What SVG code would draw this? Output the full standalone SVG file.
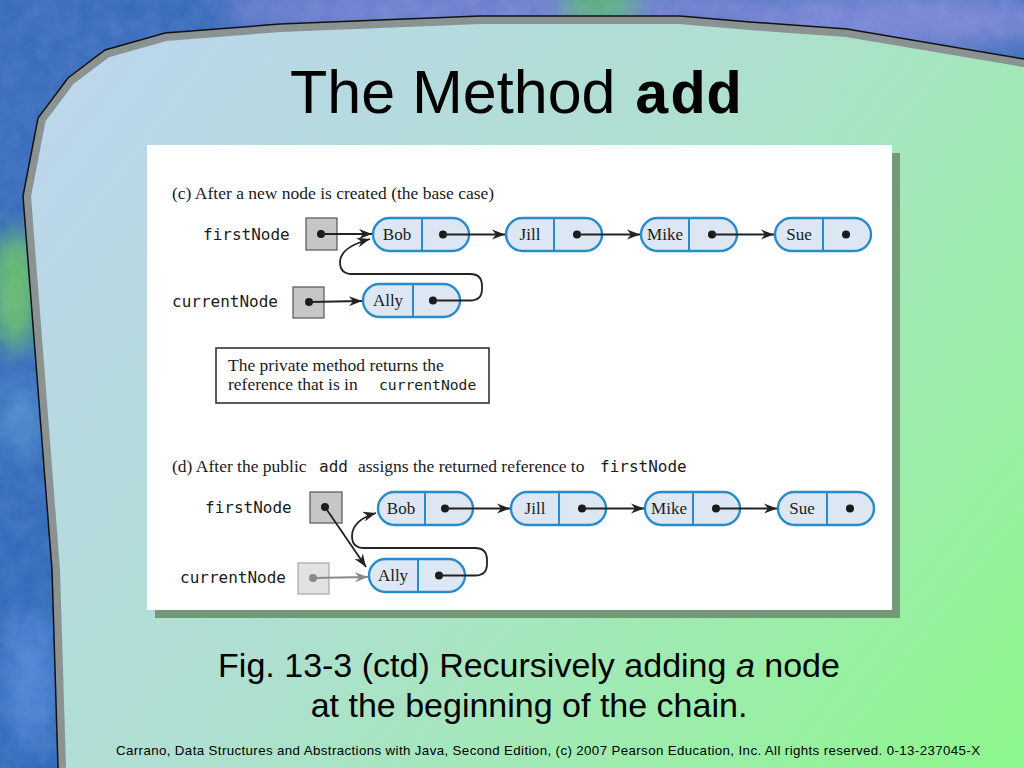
<svg xmlns="http://www.w3.org/2000/svg" width="1024" height="768" viewBox="0 0 1024 768">
<style>
.mono{font-family:"DejaVu Sans Mono","Liberation Mono",monospace;fill:#1a1a1a}
.serif{font-family:"Liberation Serif","Times New Roman",serif;fill:#1a1a1a}
.sans{font-family:"Liberation Sans",Arial,sans-serif;fill:#000}
.pill{fill:#dce7f3;stroke:#2a8bcb;stroke-width:2.4}
.div{stroke:#2a8bcb;stroke-width:2}
.ref{fill:#c6c6c6;stroke:#555;stroke-width:1.2}
.refl{fill:#e2e2e2;stroke:#a8a8a8;stroke-width:1.2}
.dot{fill:#1a1a1a}
.ln{stroke:#222;stroke-width:1.8;fill:none}
.lng{stroke:#8a8a8a;stroke-width:1.8;fill:none}
.nt{font-size:17px;text-anchor:middle}
</style>
<defs>
<linearGradient id="inner" x1="100" y1="60" x2="1000" y2="760" gradientUnits="userSpaceOnUse">
<stop offset="0" stop-color="#bcd6ec"/>
<stop offset="0.45" stop-color="#aee0d0"/>
<stop offset="1" stop-color="#8ef68e"/>
</linearGradient>
<linearGradient id="outer" x1="0" y1="0" x2="0" y2="768" gradientUnits="userSpaceOnUse">
<stop offset="0" stop-color="#3568b8"/>
<stop offset="1" stop-color="#2a66b6"/>
</linearGradient>
<filter id="noise" x="0" y="0" width="100%" height="100%">
<feTurbulence type="fractalNoise" baseFrequency="0.05" numOctaves="3" seed="4"/>
<feColorMatrix type="matrix" values="0 0 0 0 0.6  0 0 0 0 0.7  0 0 0 0 1  0 0 0 0.5 0"/>
</filter>
<filter id="blur"><feGaussianBlur stdDeviation="12"/></filter>
<clipPath id="inside">
<path d="M1100,72 L1024,59 L847,29 L750,22 L680,16 L480,16 L280,24 L165,33 L105,50 L68,78 L38,118 L23,196 L27,248 L52,570 L58,768 L60,830 L1100,830 Z"/>
</clipPath>
<marker id="ah" viewBox="-14 -6 15 12" refX="0" refY="0" markerWidth="15" markerHeight="12" orient="auto" markerUnits="userSpaceOnUse">
<path d="M0,0 L-13,-5 L-9,0 L-13,5 Z" fill="#222"/>
</marker>
<marker id="ahg" viewBox="-14 -6 15 12" refX="0" refY="0" markerWidth="15" markerHeight="12" orient="auto" markerUnits="userSpaceOnUse">
<path d="M0,0 L-13,-5 L-9,0 L-13,5 Z" fill="#8a8a8a"/>
</marker>
</defs>

<!-- slide background -->
<rect x="0" y="0" width="1024" height="768" fill="url(#outer)"/>
<g filter="url(#blur)">
<ellipse cx="520" cy="10" rx="300" ry="30" fill="#6c7ccc"/>
<ellipse cx="900" cy="20" rx="160" ry="30" fill="#7482d0"/>
<ellipse cx="600" cy="5" rx="40" ry="20" fill="#58b070"/>
<ellipse cx="15" cy="290" rx="25" ry="60" fill="#62bc68"/>
<ellipse cx="20" cy="420" rx="20" ry="40" fill="#4a86c8"/>
<ellipse cx="30" cy="680" rx="25" ry="70" fill="#4a7ed0"/>
</g>
<rect x="0" y="0" width="1024" height="768" filter="url(#noise)" opacity="0.35"/>
<path d="M1100,72 L1024,59 L847,29 L750,22 L680,16 L480,16 L280,24 L165,33 L105,50 L68,78 L38,118 L23,196 L27,248 L52,570 L58,768 L60,830 L1100,830 Z" fill="url(#inner)"/>
<path d="M1100,72 L1024,59 L847,29 L750,22 L680,16 L480,16 L280,24 L165,33 L105,50 L68,78 L38,118 L23,196 L27,248 L52,570 L58,768" fill="none" stroke="#8a9292" stroke-width="16" clip-path="url(#inside)"/>
<path d="M1100,72 L1024,59 L847,29 L750,22 L680,16 L480,16 L280,24 L165,33 L105,50 L68,78 L38,118 L23,196 L27,248 L52,570 L58,768" fill="none" stroke="#111" stroke-width="1.5"/>

<!-- title -->
<text class="sans" x="290" y="113" font-size="61">The Method</text>
<text x="634" y="113" font-size="60" font-weight="bold" font-family="'Liberation Mono','Courier New',monospace" fill="#000">add</text>

<!-- figure panel -->
<rect x="155" y="153" width="745" height="465" fill="#729a76"/>
<rect x="147" y="145" width="745" height="465" fill="#ffffff"/>

<!-- (c) -->
<text class="serif" x="172" y="199" font-size="17.5">(c) After a new node is created (the base case)</text>
<text class="mono" x="203" y="240" font-size="16">firstNode</text>
<text class="mono" x="172" y="307" font-size="16">currentNode</text>

<g id="c-firstNode"><rect class="ref" x="306" y="218" width="31" height="32"/><circle class="dot" cx="321" cy="234" r="4"/></g>
<g id="c-bob"><rect class="pill" x="373" y="218" width="96" height="33" rx="16.5"/><line class="div" x1="422" y1="218" x2="422" y2="251"/><text class="serif nt" x="397" y="240">Bob</text><circle class="dot" cx="443" cy="234.5" r="4"/></g>
<g id="c-jill"><rect class="pill" x="506" y="218" width="96" height="33" rx="16.5"/><line class="div" x1="554" y1="218" x2="554" y2="251"/><text class="serif nt" x="530" y="240">Jill</text><circle class="dot" cx="577" cy="234.5" r="4"/></g>
<g id="c-mike"><rect class="pill" x="641" y="218" width="96" height="33" rx="16.5"/><line class="div" x1="689" y1="218" x2="689" y2="251"/><text class="serif nt" x="665" y="240">Mike</text><circle class="dot" cx="712" cy="234.5" r="4"/></g>
<g id="c-sue"><rect class="pill" x="775" y="218" width="96" height="33" rx="16.5"/><line class="div" x1="823" y1="218" x2="823" y2="251"/><text class="serif nt" x="799" y="240">Sue</text><circle class="dot" cx="846" cy="234.5" r="4"/></g>
<g id="c-currentNode"><rect class="ref" x="293" y="287" width="31" height="31"/><circle class="dot" cx="309" cy="302" r="4"/></g>
<g id="c-ally"><rect class="pill" x="363" y="284" width="97" height="33" rx="16.5"/><line class="div" x1="413" y1="284" x2="413" y2="317"/><text class="serif nt" x="388" y="306">Ally</text><circle class="dot" cx="433" cy="300.5" r="4"/></g>

<g id="c-note">
<rect x="216" y="348" width="273" height="55" fill="#fff" stroke="#333" stroke-width="1.6"/>
<text class="serif" x="228" y="371" font-size="17.5">The private method returns the</text>
<text class="serif" x="228" y="390" font-size="17.5">reference that is in</text>
<text class="mono" x="379" y="390" font-size="14.7">currentNode</text>
</g>

<!-- (d) -->
<text class="serif" x="172" y="472" font-size="17.5">(d) After the public</text>
<text class="mono" x="319" y="472" font-size="16">add</text>
<text class="serif" x="358" y="472" font-size="17.5">assigns the returned reference to</text>
<text class="mono" x="600" y="472" font-size="16">firstNode</text>
<text class="mono" x="205" y="513" font-size="16">firstNode</text>
<text class="mono" x="180" y="583" font-size="16">currentNode</text>

<g id="d-firstNode"><rect class="ref" x="310" y="492" width="32" height="31"/><circle class="dot" cx="325" cy="507" r="4"/></g>
<g id="d-bob"><rect class="pill" x="378" y="492" width="95" height="33" rx="16.5"/><line class="div" x1="425" y1="492" x2="425" y2="525"/><text class="serif nt" x="401" y="514">Bob</text><circle class="dot" cx="445" cy="508.5" r="4"/></g>
<g id="d-jill"><rect class="pill" x="511" y="492" width="95" height="33" rx="16.5"/><line class="div" x1="559" y1="492" x2="559" y2="525"/><text class="serif nt" x="535" y="514">Jill</text><circle class="dot" cx="582" cy="508.5" r="4"/></g>
<g id="d-mike"><rect class="pill" x="645" y="492" width="95" height="33" rx="16.5"/><line class="div" x1="693" y1="492" x2="693" y2="525"/><text class="serif nt" x="669" y="514">Mike</text><circle class="dot" cx="716" cy="508.5" r="4"/></g>
<g id="d-sue"><rect class="pill" x="778" y="492" width="96" height="33" rx="16.5"/><line class="div" x1="827" y1="492" x2="827" y2="525"/><text class="serif nt" x="802" y="514">Sue</text><circle class="dot" cx="850" cy="508.5" r="4"/></g>
<g id="d-currentNode"><rect class="refl" x="298" y="563" width="31" height="31"/><circle cx="313" cy="578" r="4" fill="#8a8a8a"/></g>
<g id="d-ally"><rect class="pill" x="369" y="559" width="96" height="33" rx="16.5"/><line class="div" x1="418" y1="559" x2="418" y2="592"/><text class="serif nt" x="393" y="581">Ally</text><circle class="dot" cx="439" cy="575.5" r="4"/></g>

<!-- connectors -->
<g id="connectors">
<line class="ln" x1="321" y1="234" x2="372" y2="234" marker-end="url(#ah)"/>
<line class="ln" x1="443" y1="234.5" x2="505" y2="234.5" marker-end="url(#ah)"/>
<line class="ln" x1="577" y1="234.5" x2="640" y2="234.5" marker-end="url(#ah)"/>
<line class="ln" x1="712" y1="234.5" x2="774" y2="234.5" marker-end="url(#ah)"/>
<line class="ln" x1="309" y1="302" x2="362" y2="301" marker-end="url(#ah)"/>
<path class="ln" d="M433,300.5 H470 Q482,300.5 482,289 V286 Q482,274 470,274 H352 Q340,274 340,262 C340,252 352,244 370,239" marker-end="url(#ah)"/>

<line class="ln" x1="325" y1="507" x2="366" y2="567" marker-end="url(#ah)"/>
<line class="lng" x1="313" y1="578" x2="368" y2="577" marker-end="url(#ahg)"/>
<line class="ln" x1="445" y1="508.5" x2="510" y2="508.5" marker-end="url(#ah)"/>
<line class="ln" x1="582" y1="508.5" x2="644" y2="508.5" marker-end="url(#ah)"/>
<line class="ln" x1="716" y1="508.5" x2="777" y2="508.5" marker-end="url(#ah)"/>
<path class="ln" d="M439,575.5 H475 Q487,575.5 487,564 V560 Q487,548 475,548 H364 Q352,548 352,536 C352,525 362,517 376,513" marker-end="url(#ah)"/>
</g>

<!-- caption -->
<text class="sans" x="529" y="677" font-size="34" text-anchor="middle">Fig. 13-3 (ctd) Recursively adding <tspan font-style="italic">a</tspan> node</text>
<text class="sans" x="529" y="717" font-size="34" text-anchor="middle">at the beginning of the chain.</text>
<text class="sans" x="116" y="755" font-size="13.3" textLength="864" lengthAdjust="spacing">Carrano, Data Structures and Abstractions with Java, Second Edition, (c) 2007 Pearson Education, Inc. All rights reserved. 0-13-237045-X</text>
</svg>
